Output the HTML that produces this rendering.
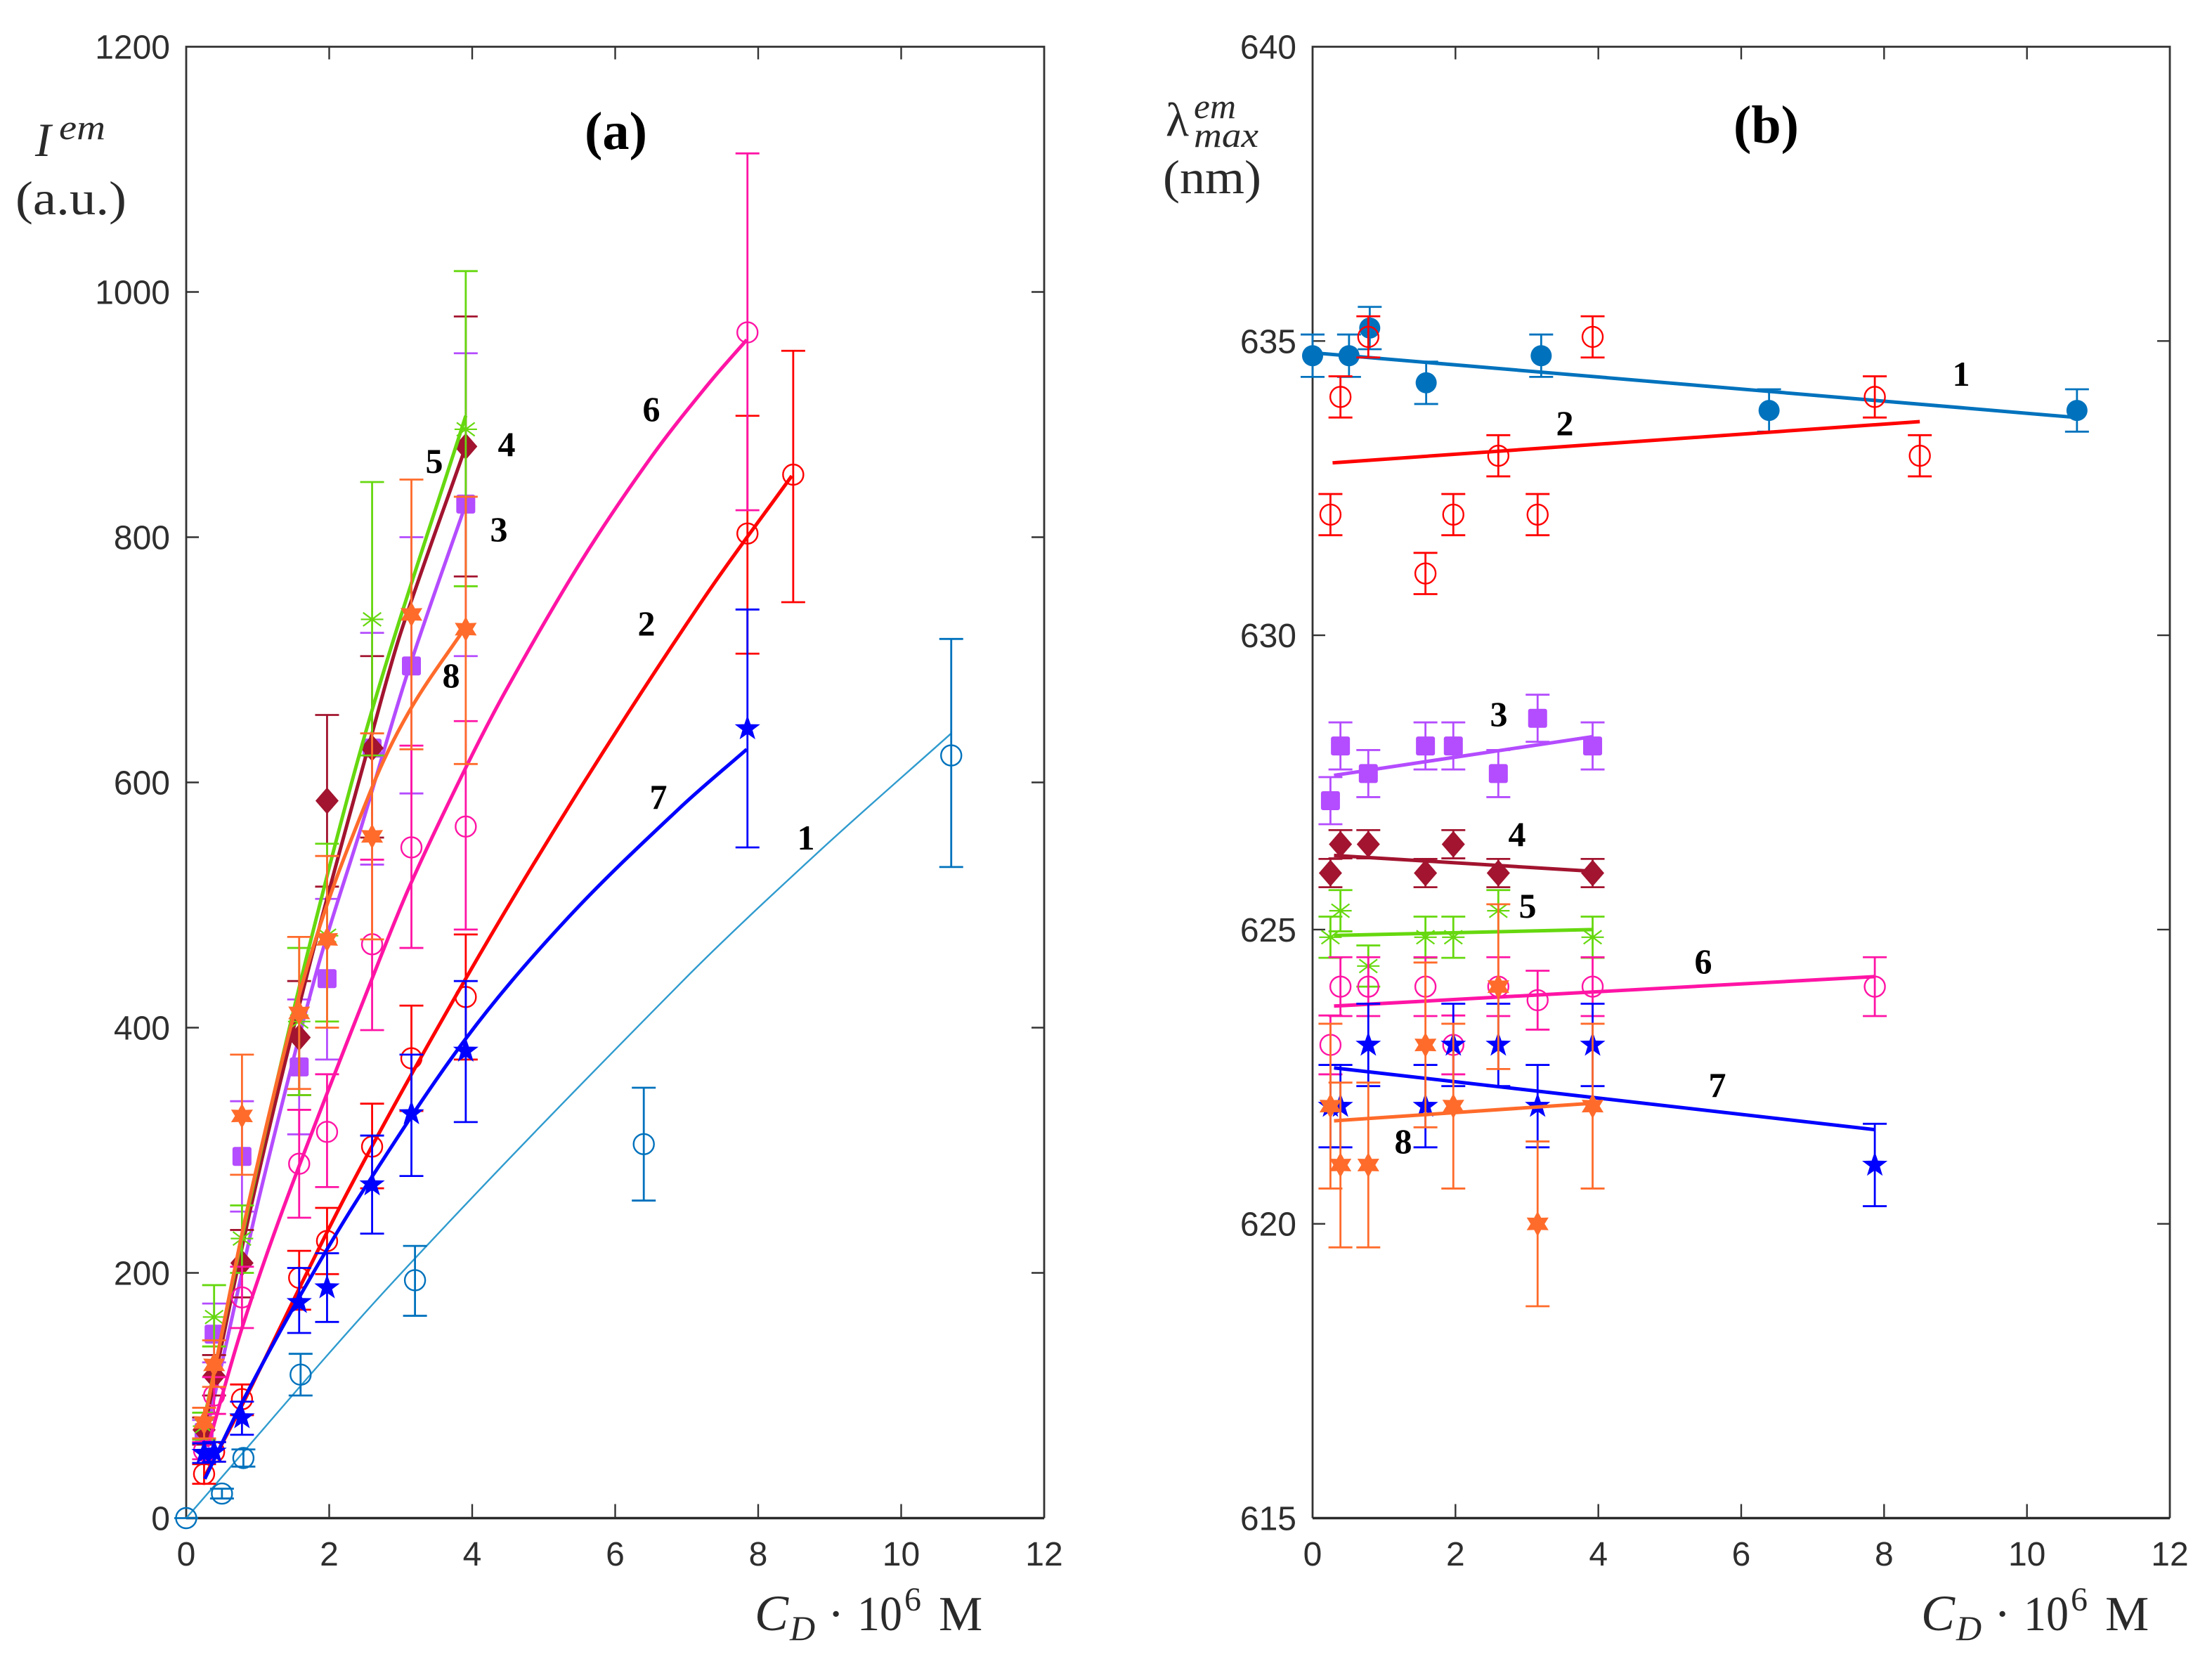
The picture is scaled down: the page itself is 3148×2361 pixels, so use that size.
<!DOCTYPE html>
<html lang="en">
<head>
<meta charset="utf-8">
<title>Emission intensity and wavelength vs concentration</title>
<style>
html,body{margin:0;padding:0;background:#fff;width:3148px;height:2361px;overflow:hidden}
svg{display:block}
.tick{font-family:"Liberation Sans",sans-serif;font-size:48px;fill:#2e2e2e}
.math{font-family:"Liberation Serif",serif;fill:#2a2a2a}
.num{font-family:"Liberation Serif",serif;font-weight:bold;font-size:50px;fill:#000;text-anchor:middle}
.panel{font-family:"Liberation Serif",serif;font-weight:bold;font-size:76px;fill:#000}
</style>
</head>
<body>
<svg id="figure" xmlns="http://www.w3.org/2000/svg" width="3148" height="2361" viewBox="0 0 3148 2361">
<rect x="0" y="0" width="3148" height="2361" fill="#fff"/>
<g id="panelA"></g>
<g id="panelB"></g>

<text class="panel" x="832" y="212" textLength="89" lengthAdjust="spacingAndGlyphs">(a)</text>
<text class="panel" x="2467" y="203" textLength="93" lengthAdjust="spacingAndGlyphs">(b)</text>

<g>
<text class="math" x="50" y="222" font-size="68" font-style="italic">I</text>
<text class="math" x="84" y="198" font-size="50" font-style="italic" textLength="66" lengthAdjust="spacingAndGlyphs">em</text>
<text class="math" x="22" y="305" font-size="68" textLength="158" lengthAdjust="spacingAndGlyphs">(a.u.)</text>
</g>
<g>
<text class="math" x="1659" y="193" font-size="68">λ</text>
<text class="math" x="1699" y="168" font-size="50" font-style="italic" textLength="60" lengthAdjust="spacingAndGlyphs">em</text>
<text class="math" x="1699" y="209" font-size="50" font-style="italic" textLength="92" lengthAdjust="spacingAndGlyphs">max</text>
<text class="math" x="1655" y="275" font-size="68" textLength="140" lengthAdjust="spacingAndGlyphs">(nm)</text>
</g>

<g transform="translate(1074 2320)">
<text class="math" x="0" y="0" font-size="72" font-style="italic">C</text>
<text class="math" x="50" y="14" font-size="50" font-style="italic">D</text>
<text class="math" x="104" y="0" font-size="70">·</text>
<text class="math" x="146" y="0" font-size="70" textLength="64" lengthAdjust="spacingAndGlyphs">10</text>
<text class="math" x="213" y="-28" font-size="48">6</text>
<text class="math" x="262" y="0" font-size="70">M</text>
</g>
<g transform="translate(2734 2320)">
<text class="math" x="0" y="0" font-size="72" font-style="italic">C</text>
<text class="math" x="50" y="14" font-size="50" font-style="italic">D</text>
<text class="math" x="104" y="0" font-size="70">·</text>
<text class="math" x="146" y="0" font-size="70" textLength="64" lengthAdjust="spacingAndGlyphs">10</text>
<text class="math" x="213" y="-28" font-size="48">6</text>
<text class="math" x="262" y="0" font-size="70">M</text>
</g>

<g>
<text class="num" x="1147" y="1209">1</text>
<text class="num" x="920" y="904">2</text>
<text class="num" x="710" y="770">3</text>
<text class="num" x="721" y="649">4</text>
<text class="num" x="618" y="673">5</text>
<text class="num" x="927" y="599">6</text>
<text class="num" x="937" y="1151">7</text>
<text class="num" x="642" y="978">8</text>
</g>
<g>
<text class="num" x="2791" y="549">1</text>
<text class="num" x="2227" y="619">2</text>
<text class="num" x="2133" y="1033">3</text>
<text class="num" x="2159" y="1204">4</text>
<text class="num" x="2174" y="1306">5</text>
<text class="num" x="2424" y="1385">6</text>
<text class="num" x="2444" y="1561">7</text>
<text class="num" x="1997" y="1641">8</text>
</g>
</svg>

<script>
// ---------- shared tick labels ----------
const xTickValues = [0, 2, 4, 6, 8, 10, 12];
const yTickValuesA = [0, 200, 400, 600, 800, 1000, 1200];
const yTickValuesB = [615, 620, 625, 630, 635, 640];

// ---------- panel (a): emission intensity ----------
const a1X = [0, 0.5, 0.8, 1.6, 3.2, 6.4, 10.7];
const a1Y = [0, 20, 49, 117, 194, 305, 622];
const a1Low = [0, 16, 42, 100, 165, 259, 531];
const a1High = [0, 24, 56, 134, 222, 351, 717];
const a1FitX = [0, 2.9, 6.91, 8.8, 10.7];
const a1FitY = [0, 193, 436, 541, 640];

const a2X = [0.25, 0.39, 0.78, 1.58, 1.97, 2.6, 3.15, 3.91, 7.85, 8.49];
const a2Y = [36, 54, 97, 196, 226, 303, 375, 425, 803, 851];
const a2Low = [28, 46, 84, 170, 199, 269, 332, 374, 705, 747];
const a2High = [44, 62, 109, 218, 253, 338, 418, 476, 899, 952];
const a2FitX = [0.26, 0.78, 2.24, 3.91, 5.52, 7.25, 8.47];
const a2FitY = [34, 92, 264, 440, 596, 751, 850];

const a3X = [0.25, 0.39, 0.78, 1.58, 1.97, 2.6, 3.15, 3.91];
const a3Y = [70, 150, 295, 368, 440, 628, 695, 827];
const a3Low = [60, 127, 250, 313, 374, 533, 591, 703];
const a3High = [80, 175, 340, 423, 505, 722, 800, 950];
const a3FitX = [0.25, 0.51, 1.03, 1.82, 2.44, 3.1, 3.91];
const a3FitY = [62, 129, 264, 445, 562, 690, 827];

const a4X = [0.25, 0.39, 0.78, 1.58, 1.97, 2.6, 3.91];
const a4Y = [72, 116, 208, 392, 585, 628, 874];
const a4Low = [60, 100, 180, 345, 515, 555, 768];
const a4High = [82, 133, 235, 438, 655, 703, 980];
const a4FitX = [0.25, 0.91, 1.72, 2.6, 3, 3.91];
const a4FitY = [72, 255, 450, 640, 722, 874];

const a5X = [0.25, 0.39, 0.78, 1.58, 1.97, 2.6, 3.91];
const a5Y = [75, 164, 228, 405, 475, 733, 888];
const a5Low = [64, 140, 200, 345, 405, 622, 760];
const a5High = [86, 190, 255, 465, 550, 845, 1017];
const a5FitX = [0.25, 0.91, 1.72, 2.6, 3.91];
const a5FitY = [80, 264, 466, 659, 899];

const a6X = [0.25, 0.39, 0.78, 1.58, 1.97, 2.6, 3.15, 3.91, 7.85];
const a6Y = [55, 100, 180, 289, 315, 468, 547, 564, 967];
const a6Low = [48, 85, 155, 245, 270, 398, 465, 480, 822];
const a6High = [62, 115, 205, 333, 362, 537, 630, 650, 1113];
const a6FitX = [0.3, 0.78, 1.43, 2.6, 3.13, 3.91, 4.5, 5.52, 6.5, 7.29, 7.84];
const a6FitY = [58, 155, 264, 440, 516, 612, 678, 780, 865, 924, 961];

const a7X = [0.25, 0.39, 0.78, 1.58, 1.97, 2.6, 3.15, 3.91, 7.85];
const a7Y = [53, 54, 82, 176, 188, 272, 330, 381, 644];
const a7Low = [45, 46, 68, 151, 160, 232, 279, 323, 547];
const a7High = [61, 62, 95, 204, 216, 312, 378, 438, 741];
const a7FitX = [0.26, 0.77, 1.57, 2.44, 3.91, 5.33, 6.9, 7.84];
const a7FitY = [32, 93, 179, 264, 391, 489, 579, 627];

const a8X = [0.25, 0.39, 0.78, 1.58, 1.97, 2.6, 3.15, 3.91];
const a8Y = [78, 125, 328, 412, 472, 556, 737, 725];
const a8Low = [65, 107, 280, 350, 400, 472, 627, 615];
const a8High = [90, 145, 378, 474, 540, 640, 847, 833];
const a8FitX = [0.25, 0.9, 1.72, 2.6, 3.13, 3.91];
const a8FitY = [78, 264, 455, 596, 659, 727];

// ---------- panel (b): emission maximum ----------
const b1X = [0, 0.51, 0.8, 1.59, 3.2, 6.39, 10.7];
const b1Y = [634.75, 634.75, 635.22, 634.29, 634.75, 633.82, 633.82];
const b1Err = [0.36, 0.36, 0.36, 0.36, 0.36, 0.36, 0.36];
const b1FitX = [0, 10.7];
const b1FitY = [634.8, 633.7];

const b2X = [0.25, 0.39, 0.78, 1.58, 1.97, 2.6, 3.15, 3.92, 7.87, 8.5];
const b2Y = [632.05, 634.05, 635.07, 631.05, 632.05, 633.05, 632.05, 635.07, 634.05, 633.05];
const b2Err = [0.35, 0.35, 0.35, 0.35, 0.35, 0.35, 0.35, 0.35, 0.35, 0.35];
const b2FitX = [0.28, 8.5];
const b2FitY = [632.93, 633.63];

const b3X = [0.25, 0.39, 0.78, 1.58, 1.97, 2.6, 3.15, 3.92];
const b3Y = [627.19, 628.12, 627.65, 628.12, 628.12, 627.65, 628.59, 628.12];
const b3Err = [0.4, 0.4, 0.4, 0.4, 0.4, 0.4, 0.4, 0.4];
const b3FitX = [0.3, 3.93];
const b3FitY = [627.62, 628.28];

const b4X = [0.25, 0.39, 0.78, 1.58, 1.97, 2.6, 3.92];
const b4Y = [625.96, 626.45, 626.45, 625.96, 626.45, 625.96, 625.96];
const b4Err = [0.24, 0.24, 0.24, 0.24, 0.24, 0.24, 0.24];
const b4FitX = [0.3, 3.93];
const b4FitY = [626.26, 625.99];

const b5X = [0.25, 0.39, 0.78, 1.58, 1.97, 2.6, 3.92];
const b5Y = [624.87, 625.32, 624.38, 624.87, 624.87, 625.32, 624.87];
const b5Err = [0.35, 0.35, 0.35, 0.35, 0.35, 0.35, 0.35];
const b5FitX = [0.3, 3.93];
const b5FitY = [624.9, 625.0];

const b6X = [0.25, 0.39, 0.78, 1.58, 1.97, 2.6, 3.15, 3.92, 7.87];
const b6Y = [623.04, 624.03, 624.03, 624.03, 623.04, 624.03, 623.8, 624.03, 624.03];
const b6Err = [0.5, 0.5, 0.5, 0.5, 0.5, 0.5, 0.5, 0.5, 0.5];
const b6FitX = [0.3, 7.87];
const b6FitY = [623.7, 624.2];

const b7X = [0.25, 0.39, 0.78, 1.58, 1.97, 2.6, 3.15, 3.92, 7.87];
const b7Y = [622, 622, 623.04, 622, 623.04, 623.04, 622, 623.04, 621];
const b7Err = [0.7, 0.7, 0.7, 0.7, 0.7, 0.7, 0.7, 0.7, 0.7];
const b7FitX = [0.3, 7.87];
const b7FitY = [622.65, 621.6];

const b8X = [0.25, 0.39, 0.78, 1.58, 1.97, 2.6, 3.15, 3.92];
const b8Y = [622, 621, 621, 623.04, 622, 624.03, 620, 622];
const b8Err = [1.4, 1.4, 1.4, 1.4, 1.4, 1.4, 1.4, 1.4];
const b8FitX = [0.3, 3.93];
const b8FitY = [621.75, 622.05];

// ---------- axis functions ----------
const plotTop = 66.5, plotBottom = 2160.5;
const aLeft = 265, aRight = 1486, bLeft = 1868, bRight = 3088;
const sxA = v => aLeft + (v / 12) * (aRight - aLeft);
const syA = v => plotBottom - (v / 1200) * (plotBottom - plotTop);
const sxB = v => bLeft + (v / 12) * (bRight - bLeft);
const syB = v => plotBottom - ((v - 615) / 25) * (plotBottom - plotTop);

const NS = 'http://www.w3.org/2000/svg';
function make(parent, tag, attrs) {
  const el = document.createElementNS(NS, tag);
  for (const k in attrs) el.setAttribute(k, attrs[k]);
  parent.appendChild(el);
  return el;
}

function smoothPath(px, py) {
  let d = 'M' + px[0] + ' ' + py[0];
  for (let i = 0; i < px.length - 1; i++) {
    const i0 = Math.max(0, i - 1), i3 = Math.min(px.length - 1, i + 2);
    const h = px[i + 1] - px[i];
    const m1 = (py[i + 1] - py[i0]) / (px[i + 1] - px[i0]);
    const m2 = (py[i3] - py[i]) / (px[i3] - px[i]);
    d += ' C' + (px[i] + h / 3) + ' ' + (py[i] + m1 * h / 3) + ' ' + (px[i + 1] - h / 3) + ' ' + (py[i + 1] - m2 * h / 3) + ' ' + px[i + 1] + ' ' + py[i + 1];
  }
  return d;
}

function starPoints(cx, cy, n, rOut, rIn) {
  const pts = [];
  for (let i = 0; i < n * 2; i++) {
    const r = i % 2 ? rIn : rOut;
    const ang = -Math.PI / 2 + i * Math.PI / n;
    pts.push((cx + r * Math.cos(ang)) + ',' + (cy + r * Math.sin(ang)));
  }
  return pts.join(' ');
}

function drawMarker(g, kind, cx, cy, color) {
  let m;
  if (kind === 'open') {
    m = make(g, 'circle', {cx: cx, cy: cy, r: 14.5, fill: 'none', stroke: color, 'stroke-width': 2.4});
  } else if (kind === 'dot') {
    m = make(g, 'circle', {cx: cx, cy: cy, r: 15, fill: color});
  } else if (kind === 'square') {
    m = make(g, 'rect', {x: cx - 13.5, y: cy - 13.5, width: 27, height: 27, rx: 3, fill: color});
  } else if (kind === 'diamond') {
    m = make(g, 'polygon', {points: cx + ',' + (cy - 19) + ' ' + (cx + 16.5) + ',' + cy + ' ' + cx + ',' + (cy + 19) + ' ' + (cx - 16.5) + ',' + cy, fill: color});
  } else if (kind === 'penta') {
    m = make(g, 'polygon', {points: starPoints(cx, cy, 5, 19, 7.6), fill: color});
  } else if (kind === 'hexa') {
    m = make(g, 'polygon', {points: starPoints(cx, cy, 6, 18, 10), fill: color});
  } else {
    const r = 16;
    const d = 'M' + (cx - r) + ' ' + cy + 'H' + (cx + r) + 'M' + cx + ' ' + (cy - r) + 'V' + (cy + r) +
      'M' + (cx - r * .8) + ' ' + (cy - r * .6) + 'L' + (cx + r * .8) + ' ' + (cy + r * .6) +
      'M' + (cx - r * .8) + ' ' + (cy + r * .6) + 'L' + (cx + r * .8) + ' ' + (cy - r * .6);
    m = make(g, 'path', {d: d, fill: 'none', stroke: color, 'stroke-width': 2.2});
  }
  
  
}

function drawSeries(root, s, sx, sy) {
  const g = make(root, 'g', {});
  
  

  const fit = make(g, 'path', {
    d: smoothPath(s.fitX.map(sx), s.fitY.map(sy)),
    fill: 'none', stroke: s.fitColor || s.color, 'stroke-width': s.fitWidth || 5
  });
  
  

  s.x.forEach((xv, i) => {
    const cx = sx(xv);
    const lo = sy(s.low ? s.low[i] : s.y[i] - s.err[i]);
    const hi = sy(s.high ? s.high[i] : s.y[i] + s.err[i]);
    const bar = make(g, 'path', {
      d: 'M' + cx + ' ' + lo + 'V' + hi + 'M' + (cx - 17) + ' ' + lo + 'H' + (cx + 17) + 'M' + (cx - 17) + ' ' + hi + 'H' + (cx + 17),
      fill: 'none', stroke: s.color, 'stroke-width': 2.8
    });
    
    
    drawMarker(g, s.marker, cx, sy(s.y[i]), s.color);
  });
}

function drawAxes(root, left, right, sx, sy, yTicks) {
  const ink = '#333';
  const frame = make(root, 'path', {
    d: 'M' + left + ' ' + plotBottom + 'V' + plotTop + 'H' + right + 'V' + plotBottom,
    fill: 'none', stroke: ink, 'stroke-width': 2.8
  });
  
  

  const base = make(root, 'line', {x1: left, x2: right, y1: plotBottom, y2: plotBottom, stroke: '#2a2a2a', 'stroke-width': 3.6});
  
  

  xTickValues.forEach(v => {
    const x = sx(v);
    if (v > 0 && v < 12) {
      const t = make(root, 'path', {
        d: 'M' + x + ' ' + plotBottom + 'v-20M' + x + ' ' + plotTop + 'v18',
        stroke: ink, 'stroke-width': 2.4, fill: 'none'
      });
      
      
    }
    const lab = make(root, 'text', {x: x, y: 2228, 'text-anchor': 'middle', class: 'tick'});
    
    
    lab.textContent = String(v);
  });

  yTicks.forEach((v, i) => {
    const y = sy(v);
    if (i > 0 && i < yTicks.length - 1) {
      const t = make(root, 'path', {
        d: 'M' + left + ' ' + y + 'h18M' + right + ' ' + y + 'h-18',
        stroke: ink, 'stroke-width': 2.4, fill: 'none'
      });
      
      
    }
    const lab = make(root, 'text', {x: left - 23, y: y + 17, 'text-anchor': 'end', class: 'tick'});
    
    
    lab.textContent = String(v);
  });
}

const colSky = '#0072BD', colRed = '#FF0000', colPurple = '#B44CFF', colWine = '#A2142F',
      colGreen = '#66D80F', colPink = '#FF14A5', colBlue = '#0000FF', colOrange = '#FF6B2B';

const seriesA = [
  {x: a1X, y: a1Y, low: a1Low, high: a1High, fitX: a1FitX, fitY: a1FitY, color: colSky, marker: 'open', fitColor: '#2F9BCE', fitWidth: 2.4},
  {x: a2X, y: a2Y, low: a2Low, high: a2High, fitX: a2FitX, fitY: a2FitY, color: colRed, marker: 'open'},
  {x: a3X, y: a3Y, low: a3Low, high: a3High, fitX: a3FitX, fitY: a3FitY, color: colPurple, marker: 'square'},
  {x: a4X, y: a4Y, low: a4Low, high: a4High, fitX: a4FitX, fitY: a4FitY, color: colWine, marker: 'diamond'},
  {x: a5X, y: a5Y, low: a5Low, high: a5High, fitX: a5FitX, fitY: a5FitY, color: colGreen, marker: 'aster'},
  {x: a6X, y: a6Y, low: a6Low, high: a6High, fitX: a6FitX, fitY: a6FitY, color: colPink, marker: 'open'},
  {x: a8X, y: a8Y, low: a8Low, high: a8High, fitX: a8FitX, fitY: a8FitY, color: colOrange, marker: 'hexa'},
  {x: a7X, y: a7Y, low: a7Low, high: a7High, fitX: a7FitX, fitY: a7FitY, color: colBlue, marker: 'penta'}
];
const seriesB = [
  {x: b1X, y: b1Y, err: b1Err, fitX: b1FitX, fitY: b1FitY, color: colSky, marker: 'dot'},
  {x: b2X, y: b2Y, err: b2Err, fitX: b2FitX, fitY: b2FitY, color: colRed, marker: 'open'},
  {x: b3X, y: b3Y, err: b3Err, fitX: b3FitX, fitY: b3FitY, color: colPurple, marker: 'square'},
  {x: b4X, y: b4Y, err: b4Err, fitX: b4FitX, fitY: b4FitY, color: colWine, marker: 'diamond'},
  {x: b5X, y: b5Y, err: b5Err, fitX: b5FitX, fitY: b5FitY, color: colGreen, marker: 'aster'},
  {x: b6X, y: b6Y, err: b6Err, fitX: b6FitX, fitY: b6FitY, color: colPink, marker: 'open'},
  {x: b7X, y: b7Y, err: b7Err, fitX: b7FitX, fitY: b7FitY, color: colBlue, marker: 'penta'},
  {x: b8X, y: b8Y, err: b8Err, fitX: b8FitX, fitY: b8FitY, color: colOrange, marker: 'hexa'}
];

const rootA = document.getElementById('panelA');
const rootB = document.getElementById('panelB');
drawAxes(rootA, aLeft, aRight, sxA, syA, yTickValuesA);
drawAxes(rootB, bLeft, bRight, sxB, syB, yTickValuesB);
seriesA.forEach(s => drawSeries(rootA, s, sxA, syA));
seriesB.forEach(s => drawSeries(rootB, s, sxB, syB));
</script>
</body>
</html>
